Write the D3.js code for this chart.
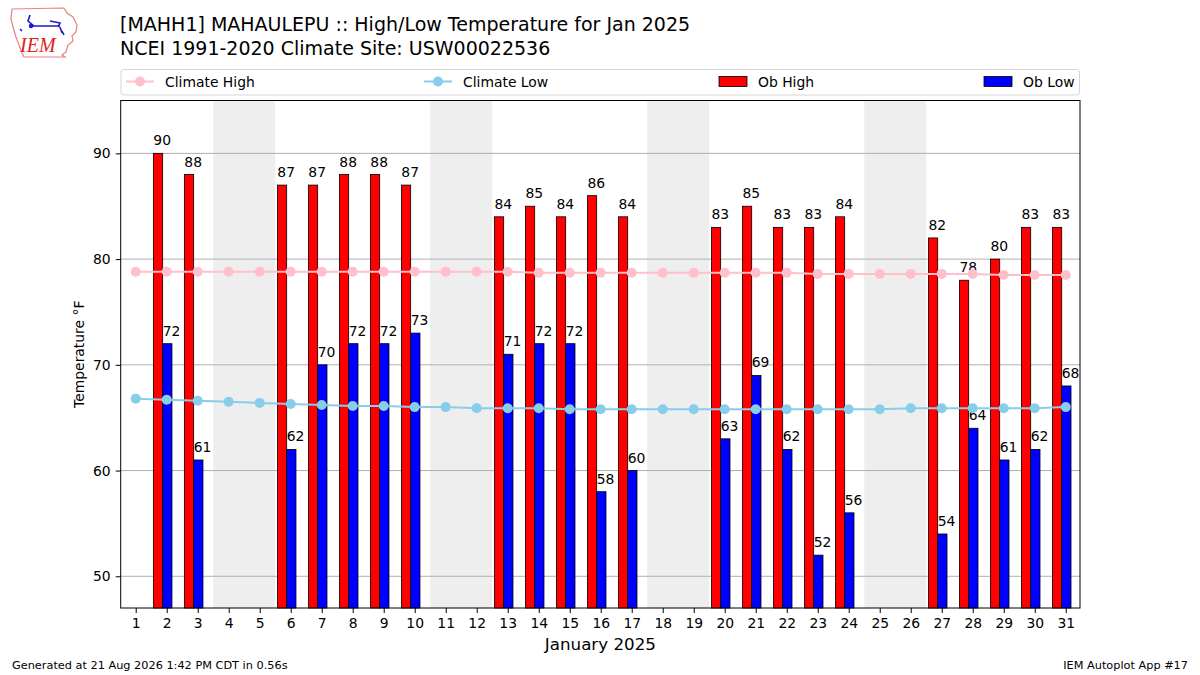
<!DOCTYPE html>
<html>
<head>
<meta charset="utf-8">
<script src="https://cdn.jsdelivr.net/npm/d3@7"></script>
<style>
  body { margin: 0; background: #fff; }
  svg { font-family: "DejaVu Sans", sans-serif; }
</style>
</head>
<body>
<div id="chart"></div>
<script>
// days of January 2025
var days = d3.range(1, 32);
// observed highs / lows, null = missing
var obHigh = [null, 90, 88, null, null, 87, 87, 88, 88, 87, null, null, 84, 85, 84, 86, 84, null, null, 83, 85, 83, 83, 84, null, null, 82, 78, 80, 83, 83];
var obLow = [null, 72, 61, null, null, 62, 70, 72, 72, 73, null, null, 71, 72, 72, 58, 60, null, null, 63, 69, 62, 52, 56, null, null, 54, 64, 61, 62, 68];
// NCEI 1991-2020 climatology
var climHigh = [78.8, 78.8, 78.8, 78.8, 78.8, 78.8, 78.8, 78.8, 78.8, 78.8, 78.8, 78.8, 78.8, 78.7, 78.7, 78.7, 78.7, 78.7, 78.7, 78.7, 78.7, 78.7, 78.6, 78.6, 78.6, 78.6, 78.6, 78.6, 78.5, 78.5, 78.5];
var climLow = [66.8, 66.7, 66.6, 66.5, 66.4, 66.3, 66.2, 66.1, 66.1, 66.0, 66.0, 65.9, 65.9, 65.9, 65.8, 65.8, 65.8, 65.8, 65.8, 65.8, 65.8, 65.8, 65.8, 65.8, 65.8, 65.9, 65.9, 65.9, 65.9, 65.9, 66.0];
// weekends shaded
var weekends = [[4, 5], [11, 12], [18, 19], [25, 26]];
var yTicks = [50, 60, 70, 80, 90];

var W = 1200, H = 675;
var margin = {top: 100.5, right: 120, bottom: 67, left: 120.7};
var width = W - margin.left - margin.right,
  height = H - margin.top - margin.bottom;

var svg = d3.select("#chart").append("svg")
  .attr("width", W)
  .attr("height", H);

// logo (rough sketch of the IEM mark)
var logo = svg.append("g").attr("transform", "translate(10,7)");
logo.append("path")
  .attr("d", "M2,2 L54,1 L57,6 L63,10 L67,18 L66,25 L62,29 L63,34 L58,38 L56,45 L52,48 L55,50 L14,50 L12,46 L9,38 L6,30 L3,20 L1,12 Z")
  .attr("fill", "none")
  .attr("stroke", "#e88080")
  .attr("stroke-width", 1.2);
logo.append("path")
  .attr("d", "M20,8 L18,14 L24,19 M21,19 L50,19 M40,14 L50,16 L48,20 M50,20 L52,26 M52,24 L54,28 M10,22 L12,24")
  .attr("fill", "none")
  .attr("stroke", "#1a1acc")
  .attr("stroke-width", 1.6);
logo.append("circle").attr("cx", 21).attr("cy", 19).attr("r", 2.2).attr("fill", "#1a1acc");
logo.append("text")
  .attr("x", 10).attr("y", 45)
  .attr("font-family", "Liberation Serif, serif")
  .attr("font-style", "italic")
  .attr("font-size", 20)
  .attr("fill", "#dd2222")
  .text("IEM");

// titles
svg.append("text")
  .attr("x", 120).attr("y", 31)
  .attr("font-size", 19)
  .text("[MAHH1] MAHAULEPU :: High/Low Temperature for Jan 2025");
svg.append("text")
  .attr("x", 120).attr("y", 55)
  .attr("font-size", 19)
  .text("NCEI 1991-2020 Climate Site: USW00022536");

var chart = svg.append("g")
  .attr("transform", "translate(" + margin.left + "," + margin.top + ")");

var xScale = d3.scaleLinear().domain([0.516, 31.46]).range([0, width]);
var yScale = d3.scaleLinear().domain([47, 95]).range([height, 0]);
var dayW = xScale(2) - xScale(1);

// weekend shading
chart.selectAll(".wk")
  .data(weekends)
  .enter().append("rect")
  .attr("x", function(d) { return xScale(d[0] - 0.5); })
  .attr("width", function(d) { return xScale(d[1] + 0.5) - xScale(d[0] - 0.5); })
  .attr("y", 0)
  .attr("height", height)
  .attr("fill", "#eeeeee");

// horizontal grid
chart.selectAll(".grid")
  .data(yTicks)
  .enter().append("line")
  .attr("x1", 0).attr("x2", width)
  .attr("y1", function(d) { return yScale(d); })
  .attr("y2", function(d) { return yScale(d); })
  .attr("stroke", "#b0b0b0")
  .attr("stroke-width", 1);

function barData(vals) {
  return days.map(function(d, i) { return {day: d, value: vals[i]}; })
    .filter(function(d) { return d.value != null; });
}

function drawBars(vals, offset, color) {
  var data = barData(vals);
  chart.selectAll(".bar-" + color)
    .data(data)
    .enter().append("rect")
    .attr("x", function(d) { return xScale(d.day + offset); })
    .attr("y", function(d) { return yScale(d.value); })
    .attr("width", dayW * 0.3)
    .attr("height", function(d) { return height - yScale(d.value); })
    .attr("fill", color)
    .attr("stroke", "#000")
    .attr("stroke-width", 0.8);
  chart.selectAll(".lbl-" + color)
    .data(data)
    .enter().append("text")
    .attr("x", function(d) { return xScale(d.day + offset); })
    .attr("y", function(d) { return yScale(d.value) - 8; })
    .attr("font-size", 13.9)
    .text(function(d) { return d.value; });
}
drawBars(obHigh, -0.43, "red");
drawBars(obLow, -0.13, "blue");

// climate lines
function drawClim(vals, color) {
  var pts = days.map(function(d, i) { return [d, vals[i]]; });
  chart.append("path")
    .datum(pts)
    .attr("fill", "none")
    .attr("stroke", color)
    .attr("stroke-width", 2)
    .attr("d", d3.line()
      .x(function(d) { return xScale(d[0]); })
      .y(function(d) { return yScale(d[1]); }));
  chart.selectAll(".dot-" + color)
    .data(pts)
    .enter().append("circle")
    .attr("cx", function(d) { return xScale(d[0]); })
    .attr("cy", function(d) { return yScale(d[1]); })
    .attr("r", 5)
    .attr("fill", color);
}
drawClim(climHigh, "pink");
drawClim(climLow, "skyblue");

// frame
chart.append("rect")
  .attr("width", width).attr("height", height)
  .attr("fill", "none").attr("stroke", "#000").attr("stroke-width", 1);

var xAxis = d3.axisBottom(xScale).tickValues(days).tickFormat(d3.format("d"))
  .tickSize(5).tickPadding(5);
var yAxis = d3.axisLeft(yScale).tickValues(yTicks).tickSize(5).tickPadding(5);

var gx = chart.append("g")
  .attr("transform", "translate(0," + height + ")")
  .call(xAxis);
var gy = chart.append("g").call(yAxis);
[gx, gy].forEach(function(g) {
  g.select(".domain").remove();
  g.selectAll("text").attr("font-size", 13.9).attr("font-family", "DejaVu Sans").attr("fill", "#000");
  g.selectAll("line").attr("stroke", "#000");
});

// axis labels
chart.append("text")
  .attr("transform", "rotate(-90)")
  .attr("x", -height / 2)
  .attr("y", -margin.left + 84)
  .attr("text-anchor", "middle")
  .attr("font-size", 13.9)
  .text("Temperature °F");
chart.append("text")
  .attr("x", width / 2)
  .attr("y", height + 42)
  .attr("text-anchor", "middle")
  .attr("font-size", 16.7)
  .text("January 2025");

// legend
var leg = svg.append("g");
leg.append("rect")
  .attr("x", 121).attr("y", 69.5)
  .attr("width", 958.5).attr("height", 25.5)
  .attr("rx", 3)
  .attr("fill", "#fff").attr("fill-opacity", 0.8)
  .attr("stroke", "#d5d5d5");
var legItems = [
  {label: "Climate High", color: "pink", type: "line", x: 126},
  {label: "Climate Low", color: "skyblue", type: "line", x: 424},
  {label: "Ob High", color: "red", type: "bar", x: 719},
  {label: "Ob Low", color: "blue", type: "bar", x: 984}
];
legItems.forEach(function(it) {
  if (it.type === "line") {
    leg.append("line").attr("x1", it.x).attr("x2", it.x + 28)
      .attr("y1", 81.5).attr("y2", 81.5)
      .attr("stroke", it.color).attr("stroke-width", 2);
    leg.append("circle").attr("cx", it.x + 14).attr("cy", 81.5).attr("r", 5).attr("fill", it.color);
  } else {
    leg.append("rect").attr("x", it.x).attr("y", 76.5).attr("width", 28).attr("height", 10)
      .attr("fill", it.color).attr("stroke", "#000").attr("stroke-width", 0.8);
  }
  leg.append("text").attr("x", it.x + 39).attr("y", 86.5)
    .attr("font-size", 13.9).text(it.label);
});

// footer
svg.append("text")
  .attr("x", 12).attr("y", 669)
  .attr("font-size", 11.3)
  .text("Generated at 21 Aug 2026 1:42 PM CDT in 0.56s");
svg.append("text")
  .attr("x", 1188).attr("y", 669)
  .attr("text-anchor", "end")
  .attr("font-size", 11.3)
  .text("IEM Autoplot App #17");
</script>
</body>
</html>
